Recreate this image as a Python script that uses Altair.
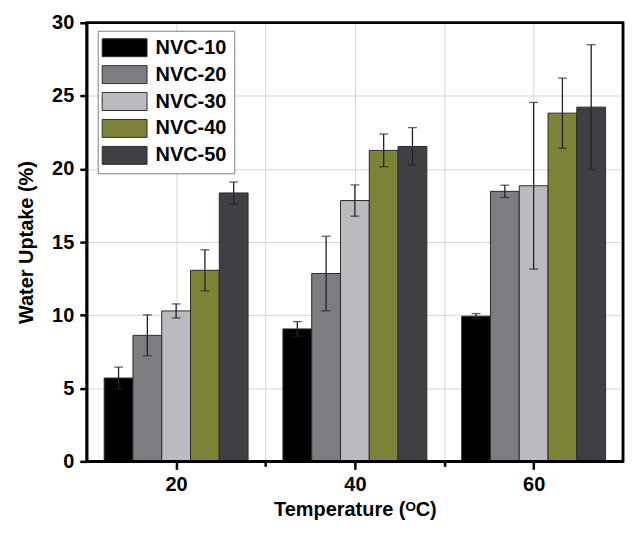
import altair as alt
import pandas as pd

temps = [20, 40, 60]
series = ["NVC-10", "NVC-20", "NVC-30", "NVC-40", "NVC-50"]
nvc10 = [5.70, 9.06, 9.93]
nvc20 = [8.62, 12.85, 18.47]
nvc30 = [10.29, 17.84, 18.85]
nvc40 = [13.07, 21.27, 23.82]
nvc50 = [18.36, 21.54, 24.23]
err10 = [0.75, 0.50, 0.18]
err20 = [1.40, 2.55, 0.42]
err30 = [0.48, 1.07, 5.70]
err40 = [1.40, 1.12, 2.40]
err50 = [0.75, 1.29, 4.27]
colors = ["#000000", "#7b7d81", "#b9bbbe", "#7c8236", "#3e4043"]
x_domain = [10, 70]
y_domain = [0, 30]

values = [nvc10, nvc20, nvc30, nvc40, nvc50]
errors = [err10, err20, err30, err40, err50]
rows = []
for i, s in enumerate(series):
    for j, t in enumerate(temps):
        rows.append({"temp": t, "series": s, "idx": i,
                     "value": values[i][j], "err": errors[i][j]})
df = pd.DataFrame(rows)

FONT = "Liberation Sans"
xtitle = "Temperature (\u1d3cC)"
ytitle = "Water Uptake (%)"

base = alt.Chart(df).transform_calculate(
    xc="datum.temp + (datum.idx - 2) * 3.22",
    x0="datum.temp + (datum.idx - 2) * 3.22 - 1.61",
    x1="datum.temp + (datum.idx - 2) * 3.22 + 1.61",
    lo="datum.value - datum.err",
    hi="datum.value + datum.err",
)

xscale = alt.Scale(domain=x_domain, nice=False, zero=False)
yscale = alt.Scale(domain=y_domain, nice=False)

xaxis = alt.Axis(
    values=[20, 30, 40, 50, 60],
    labelExpr="datum.value % 20 === 0 ? datum.label : ''",
    tickSize={"condition": {"test": "datum.value % 20 === 0", "value": 8}, "value": 5},
    labelPadding=5, titlePadding=5, labelAngle=0,
)
yaxis = alt.Axis(
    values=[0, 2.5, 5, 7.5, 10, 12.5, 15, 17.5, 20, 22.5, 25, 27.5, 30],
    labelExpr="datum.value % 5 === 0 ? datum.label : ''",
    tickSize={"condition": {"test": "datum.value % 5 === 0", "value": 7}, "value": 4},
    labelPadding=6, titlePadding=15,
)

legend = alt.Legend(
    orient="none", legendX=11, legendY=8, title=None,
    fillColor="white", strokeColor="#808080", padding=7,
    symbolType="M-2.5,-1H2.5V1H-2.5Z", symbolSize=324,
    symbolStrokeColor="#333333", symbolStrokeWidth=1, symbolOpacity=1,
    symbolOffset=10, labelOffset=21, rowPadding=5,
    labelFont=FONT, labelFontSize=20, labelFontWeight="bold", labelColor="black",
)

bars = base.mark_bar(stroke="#2b2b2b", strokeWidth=1).encode(
    x=alt.X("x0:Q", scale=xscale, axis=xaxis, title=xtitle),
    x2="x1:Q",
    y=alt.Y("value:Q", scale=yscale, axis=yaxis, title=ytitle),
    y2=alt.datum(0),
    color=alt.Color("series:N", scale=alt.Scale(domain=series, range=colors), legend=legend),
)

rules = base.mark_rule(color="#222222", strokeWidth=1.3).encode(
    x=alt.X("xc:Q", scale=xscale, title=xtitle),
    y=alt.Y("lo:Q", scale=yscale, title=ytitle),
    y2="hi:Q",
)

caps_hi = base.mark_tick(orient="horizontal", size=9, thickness=1.3, color="#222222").encode(
    x=alt.X("xc:Q", scale=xscale, title=xtitle),
    y=alt.Y("hi:Q", scale=yscale, title=ytitle),
)
caps_lo = base.mark_tick(orient="horizontal", size=9, thickness=1.3, color="#222222").encode(
    x=alt.X("xc:Q", scale=xscale, title=xtitle),
    y=alt.Y("lo:Q", scale=yscale, title=ytitle),
)

# plot frame (top and right edges), drawn through the scales
frame = alt.Chart(alt.Data(values=[{"x0": x_domain[0], "x1": x_domain[1],
                                     "y0": y_domain[0], "y1": y_domain[1]}])).mark_rect(
    fillOpacity=0, stroke="black", strokeWidth=2.5,
).encode(
    x=alt.X("x0:Q", scale=xscale, title=xtitle),
    x2="x1:Q",
    y=alt.Y("y0:Q", scale=yscale, title=ytitle),
    y2="y1:Q",
)

chart = alt.layer(bars, rules, caps_hi, caps_lo, frame).properties(
    width=538, height=440,
    padding={"left": 8, "top": 4, "right": 2, "bottom": 3},
).configure_view(
    stroke="black", strokeWidth=2.5,
).configure_axis(
    domainColor="black", domainWidth=2.5, tickColor="black", tickWidth=2.5,
    grid=True, gridColor="#d6d6d6", gridWidth=1,
    labelFont=FONT, labelFontSize=20, labelFontWeight="bold", labelColor="black",
    titleFont=FONT, titleFontSize=20, titleFontWeight="bold", titleColor="black",
)

chart.save("out.html", embed_options={"renderer": "svg", "actions": False})
